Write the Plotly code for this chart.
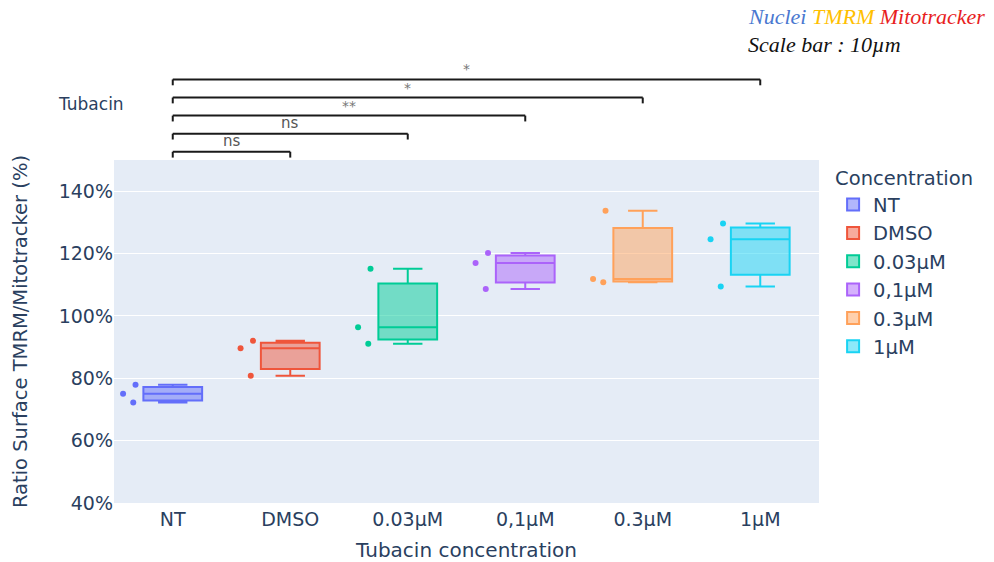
import plotly.graph_objects as go

categories = ["NT", "DMSO", "0.03µM", "0,1µM", "0.3µM", "1µM"]
values = {
    "NT": [77.9, 75.0, 72.2],
    "DMSO": [92.0, 89.6, 80.8],
    "0.03µM": [115.1, 96.4, 91.1],
    "0,1µM": [120.2, 117.0, 108.6],
    "0.3µM": [133.7, 111.8, 110.8],
    "1µM": [129.6, 124.6, 109.4],
}
colors = ["#636efa", "#EF553B", "#00cc96", "#ab63fa", "#FFA15A", "#19d3f3"]
comparisons = [
    ("NT", "DMSO", "ns"),
    ("NT", "0.03µM", "ns"),
    ("NT", "0,1µM", "**"),
    ("NT", "0.3µM", "*"),
    ("NT", "1µM", "*"),
]
y_ticks = [40, 60, 80, 100, 120, 140]
y_ticktext = [f"{v}%" for v in y_ticks]

FONT = "DejaVu Sans, Verdana, sans-serif"

fig = go.Figure()
for cat, col in zip(categories, colors):
    fig.add_trace(go.Box(
        x=[cat] * len(values[cat]), y=values[cat], name=cat,
        marker_color=col, boxpoints="all", pointpos=-1.5, jitter=0.3,
        width=0.5, quartilemethod="linear", line_width=2,
    ))

shapes = []
annotations = []
base, step, tick = 1.024, 0.0527, 0.017
for i, (a, b, lab) in enumerate(comparisons):
    yl = base + i * step
    line = dict(color="#1a1a1a", width=2)
    shapes.append(dict(type="line", xref="x", yref="paper", x0=a, x1=b, y0=yl, y1=yl, line=line))
    shapes.append(dict(type="line", xref="x", yref="paper", x0=a, x1=a, y0=yl - tick, y1=yl, line=line))
    shapes.append(dict(type="line", xref="x", yref="paper", x0=b, x1=b, y0=yl - tick, y1=yl, line=line))
    ia, ib = categories.index(a), categories.index(b)
    annotations.append(dict(
        x=(ia + ib) / 2, xref="x", y=yl, yref="paper", xanchor="center", yanchor="bottom",
        text=lab, showarrow=False,
        font=dict(size=15 if lab == "ns" else 14, color="#555" if lab == "ns" else "#777",
                  family=FONT),
    ))

annotations.append(dict(
    x=-0.033, xref="paper", y=1.163, yref="paper", xanchor="center", yanchor="middle",
    text="Tubacin", showarrow=False,
    font=dict(size=17, color="#2a3f5f", family=FONT),
))
serif = "Liberation Serif, Times New Roman, serif"
annotations.append(dict(
    x=0.897, xref="paper", y=1.417, yref="paper", xanchor="left", yanchor="middle",
    text="<i><span style='color:#4a78d0'>Nuclei</span> <span style='color:#FFC000'>TMRM</span> <span style='color:#E81E1E'>Mitotracker</span></i>",
    showarrow=False, font=dict(size=22, family=serif),
))
annotations.append(dict(
    x=0.897, xref="paper", y=1.338, yref="paper", xanchor="left", yanchor="middle",
    text="<i>Scale bar : 10µm</i>", showarrow=False,
    font=dict(size=22, family=serif, color="#111"),
))

fig.update_layout(
    width=994, height=562,
    margin=dict(l=114, r=175, t=160, b=59),
    template="plotly",
    font=dict(family=FONT, size=19, color="#2a3f5f"),
    boxmode="overlay",
    showlegend=True,
    legend=dict(title=dict(text="Concentration", font=dict(size=19.5)), font=dict(size=19.5)),
    xaxis=dict(title=dict(text="Tubacin concentration", font=dict(size=20)),
               categoryorder="array", categoryarray=categories,
               range=[-0.5, 5.5], showgrid=False, ticklabelstandoff=3,
               tickfont=dict(size=19), automargin=False),
    yaxis=dict(title=dict(text="Ratio Surface TMRM/Mitotracker (%)", font=dict(size=19.5),
                          standoff=25),
               range=[40, 150], tickvals=y_ticks, ticktext=y_ticktext,
               tickfont=dict(size=19), automargin=False),
    shapes=shapes,
    annotations=annotations,
)

fig.write_html("out.html", config={"displayModeBar": False},
               post_script="document.body.style.margin='0';")
